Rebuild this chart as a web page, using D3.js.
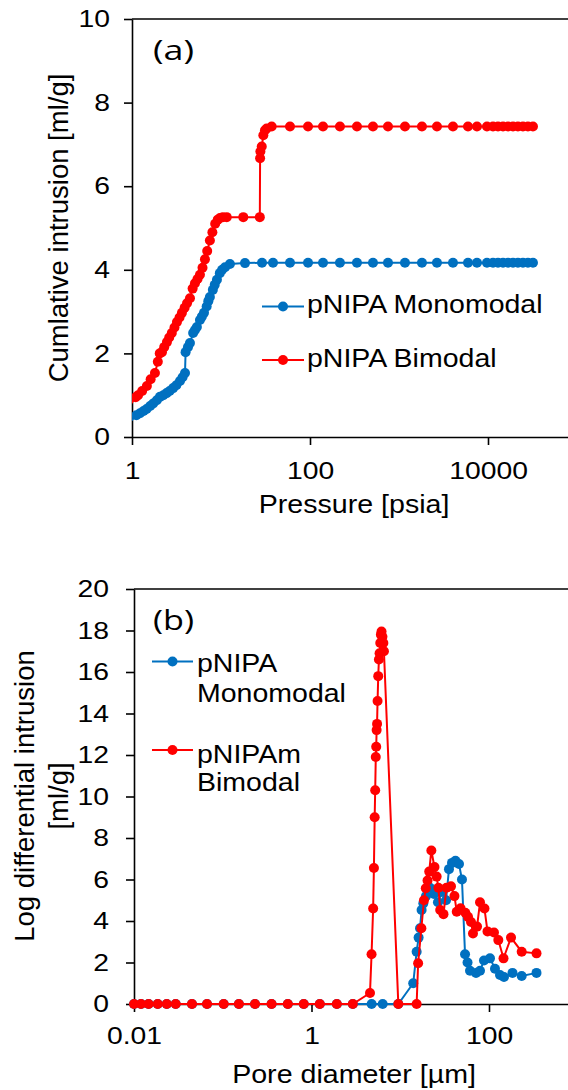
<!DOCTYPE html>
<html>
<head>
<meta charset="utf-8">
<script src="https://cdn.jsdelivr.net/npm/d3@7"></script>
<style>
  html, body { margin: 0; padding: 0; background: #fff; }
  svg { display: block; }
  text { font-family: "Liberation Sans", Arial, sans-serif; fill: #000; }
</style>
</head>
<body>
<svg id="chart" width="568" height="1090"></svg>
<script>
// (a) cumulative intrusion vs pressure
var pressureMono = [0.85, 1.12, 1.23, 1.35, 1.46, 1.6, 1.73, 1.9, 2.06, 2.25, 2.45, 2.65, 2.9, 3.15, 3.46, 3.7,
  3.94, 4.0, 4.25, 4.48, 4.86, 5.1, 5.36, 5.8, 6.1, 6.44, 6.9, 7.2, 7.5, 8.1, 8.5, 9.0, 9.7, 10.3, 11.1, 12.6,
  18.6, 28.9, 38.4, 59.6, 95, 140, 217, 337, 510, 752, 1167, 1811, 2670, 4040, 5960, 7520, 9740, 11380,
  12950, 14750, 16800, 19100, 21700, 24700, 28100, 32000];
var intrusionMono = [0.25, 0.52, 0.57, 0.62, 0.67, 0.74, 0.8, 0.88, 0.96, 1.0, 1.05, 1.1, 1.17, 1.24, 1.34, 1.43,
  1.53, 2.03, 2.15, 2.25, 2.49, 2.56, 2.63, 2.8, 2.88, 2.97, 3.12, 3.25, 3.35, 3.52, 3.64, 3.76, 3.92, 4.0, 4.06, 4.14,
  4.16, 4.17, 4.17, 4.17, 4.17, 4.17, 4.17, 4.17, 4.17, 4.17, 4.17, 4.17, 4.17, 4.17, 4.17, 4.17, 4.17, 4.17,
  4.17, 4.17, 4.17, 4.17, 4.17, 4.17, 4.17, 4.17];

var pressureBi = [0.85, 1.1, 1.17, 1.3, 1.47, 1.62, 1.81, 1.95, 2.05, 2.17, 2.3, 2.47, 2.62, 2.8, 3.0, 3.2,
  3.42, 3.64, 3.9, 4.15, 4.48, 4.8, 5.1, 5.45, 5.8, 6.2, 6.6, 7.0, 7.5, 8.0, 8.6, 9.2, 9.74, 10.5, 11.6, 17.8,
  27.3, 27.5, 27.7, 28.7, 29.9, 31.2, 32.6, 37.1, 59.6, 95, 140, 217, 337, 510, 752, 1167, 1811, 2670, 4040,
  5960, 7520, 9740, 11380, 12950, 14750, 16800, 19100, 21700, 24700, 28100, 32000];
var intrusionBi = [0.62, 0.95, 1.0, 1.1, 1.22, 1.38, 1.53, 1.8, 2.0, 2.03, 2.15, 2.27, 2.38, 2.49, 2.62, 2.75,
  2.86, 2.97, 3.09, 3.2, 3.32, 3.55, 3.68, 3.78, 3.88, 4.05, 4.25, 4.45, 4.7, 4.9, 5.1, 5.2, 5.24, 5.26, 5.26, 5.26,
  5.26, 6.67, 6.83, 6.95, 7.22, 7.34, 7.38, 7.43, 7.43, 7.43, 7.43, 7.43, 7.43, 7.43, 7.43, 7.43, 7.43, 7.43, 7.43,
  7.43, 7.43, 7.43, 7.43, 7.43, 7.43, 7.43, 7.43, 7.43, 7.43, 7.43, 7.43];

// (b) log differential intrusion vs pore diameter
var poreMono = [0.01, 0.012, 0.0146, 0.0185, 0.0234, 0.0295, 0.045, 0.0665, 0.1025, 0.152, 0.231, 0.355, 0.541,
  0.818, 1.24, 1.93, 2.92, 4.76, 6.34, 9.51, 14.0, 15.3, 16.1, 16.7, 17.4, 18.2, 19.5, 21.6, 24.0, 26.6, 29.5,
  32.8, 35.4, 38.3, 41.9, 45.9, 49.6, 53.7, 57.3, 61.1, 71.4, 79.2, 87.8, 102.6, 116.8, 133, 147.5, 184, 233.6, 343];
var logDiffMono = [0, 0, 0, 0, 0, 0, 0, 0, 0, 0, 0, 0, 0,
  0, 0, 0, 0, 0, 0, 0, 1.0, 2.52, 3.2, 3.65, 4.53, 4.85, 5.2, 5.6, 5.3, 4.9, 5.4,
  5.0, 6.5, 6.8, 6.9, 6.75, 6.0, 2.4, 2.0, 1.6, 1.5, 1.6, 2.1, 2.2, 1.7, 1.4, 1.3, 1.5, 1.35, 1.5];

var poreBi = [0.01, 0.012, 0.0146, 0.0185, 0.0234, 0.0295, 0.045, 0.0665, 0.1025, 0.152, 0.231, 0.355, 0.541,
  0.818, 1.24, 1.93, 2.92, 4.56, 4.75, 4.95, 5.05, 5.15, 5.22, 5.3, 5.36, 5.42, 5.48, 5.55, 5.65, 5.75, 5.85,
  5.95, 6.05, 6.15, 6.3, 6.45, 6.55, 9.51, 15.3, 15.9, 17.3, 18.5, 19.4, 20.3, 21.2, 22.4, 24.3, 25.7, 26.9,
  28.2, 30.7, 33.2, 37.3, 40.8, 43.3, 47.8, 54.1, 58.0, 62.7, 66.0, 73.3, 79.2, 88.9, 96.2, 113.8, 127.4,
  145.7, 177, 233.6, 343];
var logDiffBi = [0, 0, 0, 0, 0, 0, 0, 0, 0, 0, 0, 0, 0,
  0, 0, 0, 0, 0.53, 2.4, 4.6, 6.55, 9.0, 10.3, 11.9, 12.4, 13.2, 13.5, 14.6, 15.8, 16.6, 16.9,
  17.4, 17.8, 17.95, 17.7, 17.4, 17.0, 0, 0, 1.96, 3.65, 5.0, 5.58, 5.95, 6.38, 7.4, 6.6, 6.14, 5.6,
  4.53, 4.33, 5.6, 5.67, 5.2, 4.45, 4.61, 4.4, 4.2, 3.95, 3.4, 3.73, 4.9, 4.6, 3.5, 3.45, 3.08,
  2.2, 3.2, 2.52, 2.44];

var pressureTicks = [1, 100, 10000];
var cumTicks = [0, 2, 4, 6, 8, 10];
var poreTicks = [0.01, 1, 100];
var logDiffTicks = [0, 2, 4, 6, 8, 10, 12, 14, 16, 18, 20];

var blue = '#0070C0';
var red = '#FF0000';

var svg = d3.select('#chart');
svg.append('rect').attr('width', 568).attr('height', 1090).attr('fill', '#fff');

// text in the source is drawn a bit wider than plain Arial
function stretch(sel, k) {
  sel.each(function () {
    var w = this.getComputedTextLength();
    d3.select(this).attr('textLength', w * k).attr('lengthAdjust', 'spacingAndGlyphs');
  });
}

function zip(xs, ys) {
  return xs.map(function (d, i) { return { x: d, y: ys[i] }; });
}

function series(g, x, y, pts, color) {
  var line = d3.line().x(function (d) { return x(d.x); }).y(function (d) { return y(d.y); });
  g.append('path').datum(pts)
    .attr('fill', 'none').attr('stroke', color).attr('stroke-width', 2)
    .attr('d', line);
  g.selectAll(null).data(pts).enter().append('circle')
    .attr('cx', function (d) { return x(d.x); })
    .attr('cy', function (d) { return y(d.y); })
    .attr('r', 5)
    .attr('fill', color);
}

function axes(x, y, xTicks, yTicks, yPad, xPad) {
  var g = svg.append('g');
  var gx = g.append('g')
    .attr('transform', 'translate(0,' + y.range()[0] + ')')
    .call(d3.axisBottom(x).tickValues(xTicks).tickFormat(function (d) { return String(d); })
      .tickSize(8).tickSizeOuter(0).tickPadding(xPad));
  var gy = g.append('g')
    .attr('transform', 'translate(' + x.range()[0] + ',0)')
    .call(d3.axisLeft(y).tickValues(yTicks).tickSize(8).tickSizeOuter(0).tickPadding(yPad));
  g.selectAll('.domain, .tick line').attr('stroke', '#000').attr('stroke-width', 1.6);
  g.selectAll('.tick text')
    .attr('fill', '#000')
    .style('font-family', '"Liberation Sans", Arial, sans-serif')
    .style('font-size', '24px')
    .call(stretch, 1.18);
  // top border of plot area
  g.append('line')
    .attr('x1', x.range()[0]).attr('x2', 568)
    .attr('y1', y.range()[1]).attr('y2', y.range()[1])
    .attr('stroke', '#000').attr('stroke-width', 1.6);
  return g;
}

function label(str, x, y, size, k, anchor, rotate) {
  var t = svg.append('text')
    .attr('transform', 'translate(' + x + ',' + y + ')' + (rotate ? ' rotate(-90)' : ''))
    .attr('text-anchor', anchor || 'start')
    .style('font-size', size + 'px')
    .text(str);
  if (k) t.call(stretch, k);
  return t;
}

function legendItem(x0, x1, yLine, color) {
  svg.append('line').attr('x1', x0).attr('x2', x1).attr('y1', yLine).attr('y2', yLine)
    .attr('stroke', color).attr('stroke-width', 2);
  svg.append('circle').attr('cx', (x0 + x1) / 2).attr('cy', yLine).attr('r', 5).attr('fill', color);
}

// ---------- chart (a) ----------
var xA = d3.scaleLog().domain([1, 100000]).range([132, 577]);
var yA = d3.scaleLinear().domain([0, 10]).range([437, 19]);

axes(xA, yA, pressureTicks, cumTicks, 14, 17);

svg.append('clipPath').attr('id', 'clipA').append('rect')
  .attr('x', 132).attr('y', 0).attr('width', 446).attr('height', 446);
var plotA = svg.append('g').attr('clip-path', 'url(#clipA)');
series(plotA, xA, yA, zip(pressureMono, intrusionMono), blue);
series(plotA, xA, yA, zip(pressureBi, intrusionBi), red);

label('(a)', 153, 60, 28, 1.2).style('font-family', '"Open Sans", sans-serif');
label('Cumlative intrusion [ml/g]', 68, 228, 27.5, 0, 'middle', true);
label('Pressure [psia]', 354, 513, 26, 1.1, 'middle');

legendItem(262, 304, 306.5, blue);
label('pNIPA Monomodal', 307, 313, 25, 1.14);
legendItem(262, 304, 360, red);
label('pNIPA Bimodal', 307, 367, 25, 1.14);

// ---------- chart (b) ----------
var xB = d3.scaleLog().domain([0.01, 1000]).range([134, 577.75]);
var yB = d3.scaleLinear().domain([0, 20]).range([1004, 589]);

axes(xB, yB, poreTicks, logDiffTicks, 17, 15);

var plotB = svg.append('g');
series(plotB, xB, yB, zip(poreMono, logDiffMono), blue);
series(plotB, xB, yB, zip(poreBi, logDiffBi), red);

label('(b)', 153, 630, 28, 1.2).style('font-family', '"Open Sans", sans-serif');
label('Log differential intrusion', 34, 796, 27.5, 0, 'middle', true);
label('[ml/g]', 68, 796, 27.5, 0, 'middle', true);
label('Pore diameter [\u00b5m]', 354, 1083, 26, 1.1, 'middle');

legendItem(152, 193, 661.5, blue);
label('pNIPA', 197, 672, 25, 1.14);
label('Monomodal', 197, 702, 25, 1.14);
legendItem(152, 193, 750, red);
label('pNIPAm', 197, 763, 25, 1.14);
label('Bimodal', 197, 791, 25, 1.14);
</script>
</body>
</html>
